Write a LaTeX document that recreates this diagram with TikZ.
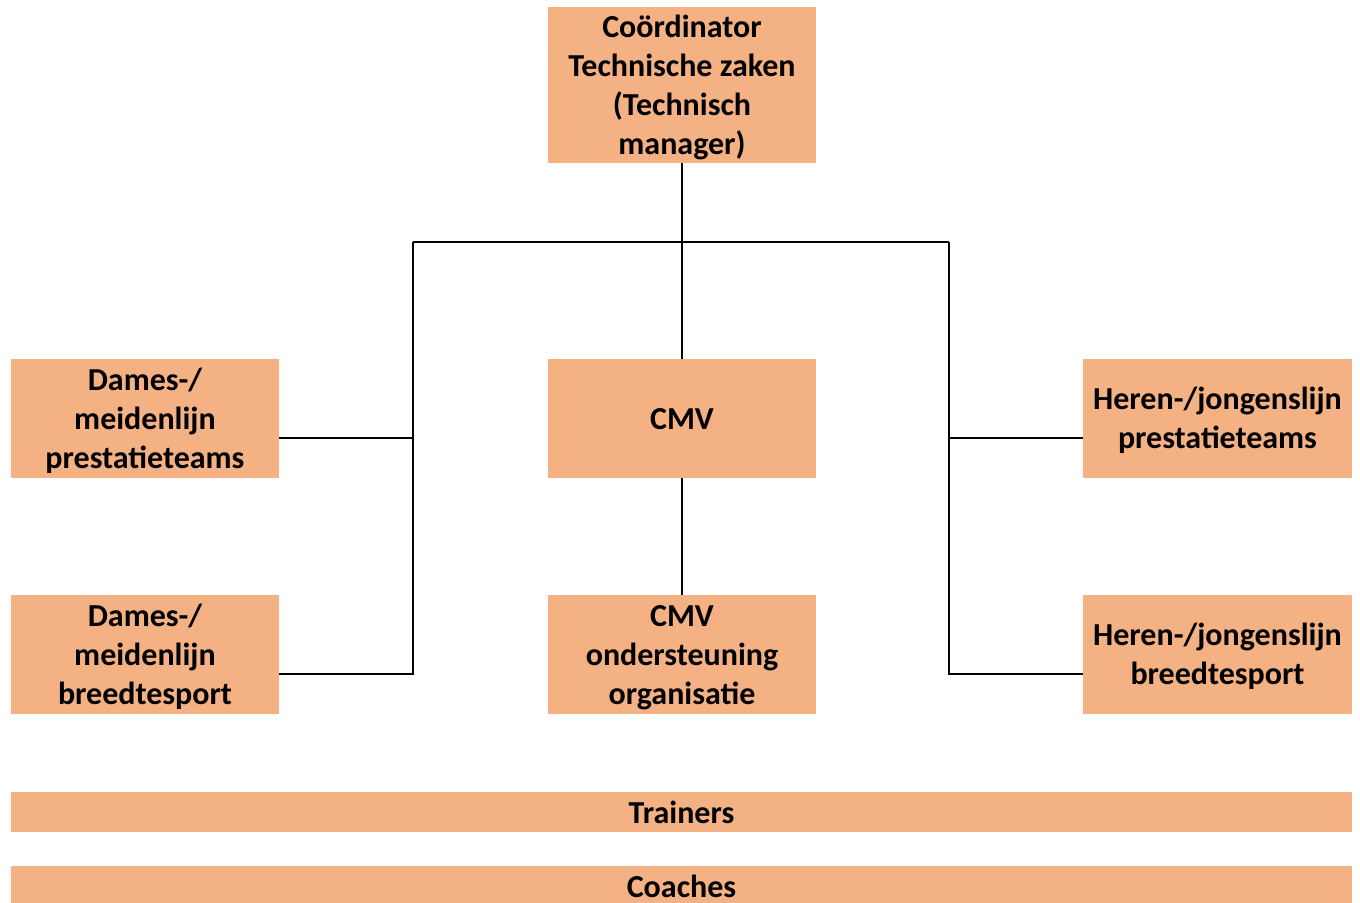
\documentclass[tikz,border=0pt]{standalone}
\usepackage{fontspec}
\setmainfont{Carlito}
\usepackage{tikz}
\usetikzlibrary{positioning}
\definecolor{boxorange}{RGB}{244,177,131}
\newcommand{\orgtext}[1]{\begin{tabular}{@{}c@{}}\noalign{\vskip3pt}#1\end{tabular}}

\tikzset{
  box/.style={fill=boxorange, inner xsep=0pt, inner ysep=-6pt, align=center,
    minimum width=134pt, minimum height=59.5pt,
    font=\fontsize{16}{19.5}\selectfont\bfseries},
  bar/.style={box, minimum width=670.5pt, minimum height=20pt},
  link/.style={line width=1pt, black}
}

\begin{document}
\begin{tikzpicture}[x=0.5pt, y=-0.5pt]
    \useasboundingbox (0,0) rectangle (1360,902);
    \clip (0,0) rectangle (1360,902);
    % boxes
    \node[box, minimum height=78pt] (tm) at (682,85) {\orgtext{Coördinator\\Technische zaken\\(Technisch\\manager)}};
    \node[box] (cmv) at (682,418.5) {\orgtext{CMV}};
    \node[box] (cmvo) at (682,654.5) {\orgtext{CMV\\ondersteuning\\organisatie}};
    \node[box] (dp) at (145,418.5) {\orgtext{Dames-/\\meidenlijn\\prestatieteams}};
    \node[box] (db) at (145,654.5) {\orgtext{Dames-/\\meidenlijn\\breedtesport}};
    \node[box, minimum width=134.5pt] (hp) at (1217.5,418.5) {\orgtext{Heren-/jongenslijn\\prestatieteams}};
    \node[box, minimum width=134.5pt] (hb) at (1217.5,654.5) {\orgtext{Heren-/jongenslijn\\breedtesport}};
    \node[bar] (trainers) at (681.5,812) {Trainers};
    \node[bar] (coaches) at (681.5,886) {Coaches};
    % lines
    \coordinate (leftbus) at (413,242);
    \coordinate (rightbus) at (949,242);
    \draw[link] (tm.south) -- (cmv.north);
    \draw[link] (leftbus) -- (rightbus);
    \draw[link] ([yshift=-9.75pt]dp.east) -| (leftbus);
    \draw[link] ([yshift=-9.75pt]db.east) -| (leftbus);
    \draw[link] ([yshift=-9.75pt]hp.west) -| (rightbus);
    \draw[link] ([yshift=-9.75pt]hb.west) -| (rightbus);
    \draw[link] (cmv.south) -- (cmvo.north);
  \end{tikzpicture}
\end{document}
